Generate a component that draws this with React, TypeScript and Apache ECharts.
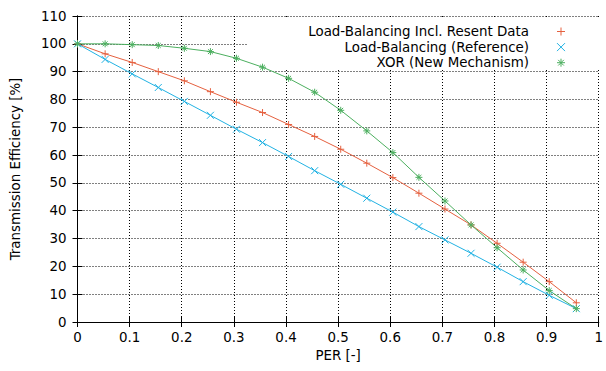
import React, { useEffect, useRef } from "react";
import * as echarts from "echarts";

const perValues = [0, 0.053, 0.105, 0.155, 0.205, 0.255, 0.305, 0.355, 0.405, 0.455, 0.505, 0.555, 0.605, 0.655, 0.705, 0.755, 0.805, 0.855, 0.905, 0.957];
const resentData = [100, 96.4, 93.3, 90.0, 86.7, 82.8, 79.0, 75.3, 71.0, 66.7, 62.1, 57.1, 51.9, 46.3, 40.6, 34.9, 28.3, 21.5, 14.5, 6.9];
const referenceData = [100, 94.4, 89.2, 84.3, 79.3, 74.3, 69.3, 64.5, 59.5, 54.4, 49.5, 44.5, 39.5, 34.3, 29.5, 24.7, 19.7, 14.5, 9.6, 4.8];
const xorData = [100, 100, 99.7, 99.4, 98.4, 97.2, 94.8, 91.6, 87.6, 82.6, 76.1, 68.7, 60.9, 52.0, 43.5, 34.9, 26.7, 18.7, 11.3, 4.8];
const seriesNames = ["Load-Balancing Incl. Resent Data", "Load-Balancing (Reference)", "XOR (New Mechanism)"];
const seriesColors = ["#E5603F", "#22B2E3", "#4CAF5F"];
const seriesSymbols = [
  "path://M0,5L10,5M5,0L5,10",
  "path://M0,0L10,10M10,0L0,10",
  "path://M0,5L10,5M5,0L5,10M1.5,1.5L8.5,8.5M8.5,1.5L1.5,8.5",
];
const seriesValues = [resentData, referenceData, xorData];

const FONT = "DejaVu Sans";
const FS = 13.4;

export default function App() {
  const ref = useRef<HTMLDivElement>(null);
  useEffect(() => {
    if (!ref.current) return;
    const chart = echarts.init(ref.current, null, { renderer: "svg" });
    const gridLine = { show: true, lineStyle: { color: "#000", width: 1, type: [1, 2] as any } };
    const axisLine = { show: true, lineStyle: { color: "#000", width: 1 } };
    const axisTick = { show: true, inside: true, length: 5, lineStyle: { color: "#000" } };
    chart.setOption({
      animation: false,
      backgroundColor: "#fff",
      textStyle: { fontFamily: FONT },
      grid: { left: 77.5, right: 6, top: 16, bottom: 49, containLabel: false },
      xAxis: [
        {
          type: "value", min: 0, max: 1, interval: 0.1,
          name: "PER [-]", nameLocation: "middle", nameGap: 19,
          nameTextStyle: { fontFamily: FONT, fontSize: FS, color: "#000" },
          axisLine, axisTick, splitLine: gridLine,
          axisLabel: { color: "#000", fontFamily: FONT, fontSize: FS, margin: 9 },
        },
        {
          type: "value", min: 0, max: 1, interval: 0.1, position: "top",
          axisLine, axisTick, splitLine: { show: false }, axisLabel: { show: false },
        },
      ],
      yAxis: [
        {
          type: "value", min: 0, max: 110, interval: 10,
          name: "Transmission Efficiency [%]", nameLocation: "middle", nameGap: 56,
          nameTextStyle: { fontFamily: FONT, fontSize: FS, color: "#000" },
          axisLine, axisTick, splitLine: gridLine,
          axisLabel: { color: "#000", fontFamily: FONT, fontSize: FS, margin: 11 },
        },
        {
          type: "value", min: 0, max: 110, interval: 10, position: "right",
          axisLine, axisTick, splitLine: { show: false }, axisLabel: { show: false },
        },
      ],
      graphic: [
        {
          type: "rect", z: 1, zlevel: 0,
          shape: { x: 248, y: 17, width: 351, height: 53 },
          style: { fill: "#fff" },
          silent: true,
        },
      ],
      legend: {
        orient: "vertical",
        align: "right",
        padding: 0,
        right: 17,
        top: 25,
        itemWidth: 54,
        itemHeight: 10,
        itemGap: 2.6,
        data: seriesNames,
        textStyle: { fontFamily: FONT, fontSize: FS, color: "#000", padding: [0, 0, 0, 0] },
        lineStyle: { opacity: 0 },
        itemStyle: { borderWidth: 1 },
      },
      series: seriesNames.map((name, i) => ({
        name,
        type: "line",
        data: perValues.map((x, j) => [x, seriesValues[i][j]]),
        symbol: seriesSymbols[i],
        symbolSize: 7,
        showSymbol: true,
        lineStyle: { color: seriesColors[i], width: 1 },
        itemStyle: { color: seriesColors[i], borderColor: seriesColors[i], borderWidth: 1 },
        z: 2,
      })),
    });
    return () => chart.dispose();
  }, []);
  return <div ref={ref} style={{ position: "fixed", left: 0, top: 0, width: 606, height: 371 }} />;
}
